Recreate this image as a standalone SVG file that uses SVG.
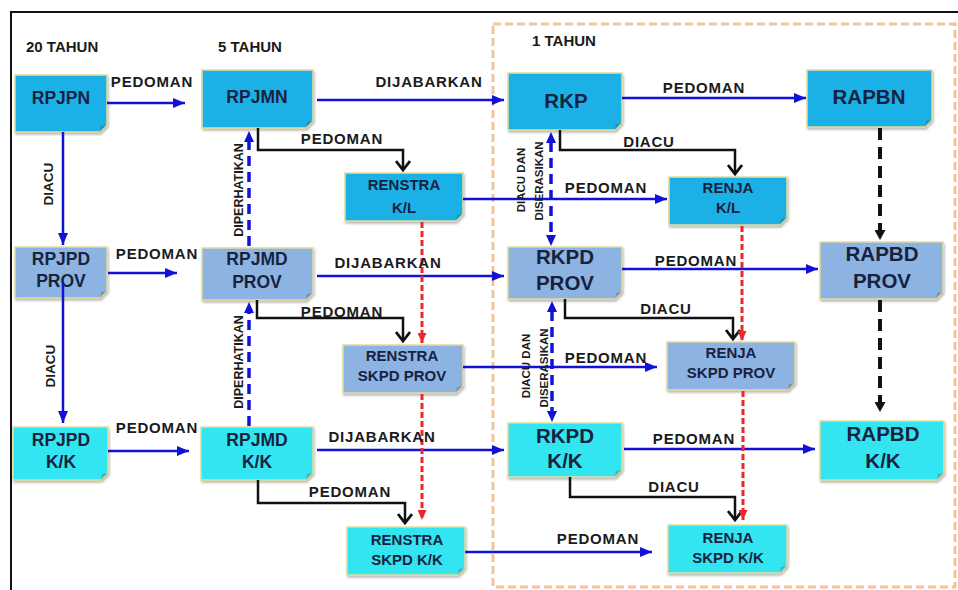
<svg xmlns="http://www.w3.org/2000/svg" width="958" height="590" viewBox="0 0 958 590">
<defs>
<style>
.nd{stroke:#E3DB9C;stroke-width:1.5;filter:url(#sh)}
.sky{fill:#1DB1E6}
.lb{fill:#8DB3E2}
.cy{fill:#33E5F0}
.fold{fill:#000;fill-opacity:0.18}
.nt{font-family:"Liberation Sans",Arial,sans-serif;font-weight:bold;fill:#17223F;text-anchor:middle}
.s16{font-size:17.5px}
.s19{font-size:20.5px}
.s14{font-size:15px}
.lbl{font-family:"Liberation Sans",Arial,sans-serif;font-weight:bold;fill:#1B1B1B;font-size:15px;letter-spacing:0.8px;text-anchor:middle}
.vl{font-family:"Liberation Sans",Arial,sans-serif;font-weight:bold;fill:#1B1B1B;text-anchor:middle}
.hd{font-family:"Liberation Sans",Arial,sans-serif;font-weight:bold;fill:#1B1B1B;font-size:15px}
.bl{fill:none;stroke:#1212D6;stroke-width:2.5;marker-end:url(#ab)}
.bd{fill:none;stroke:#1212D6;stroke-width:3.5;stroke-dasharray:10 6}
.bk{fill:none;stroke:#111;stroke-width:2.5;marker-end:url(#ak)}
.rd{fill:none;stroke:#E8282C;stroke-width:3;stroke-dasharray:6 3;marker-end:url(#ar)}
.kd{fill:none;stroke:#111;stroke-width:4;stroke-dasharray:12 7;marker-end:url(#akd)}
</style>
<filter id="sh" x="-10%" y="-10%" width="125%" height="130%">
<feDropShadow dx="1" dy="2" stdDeviation="1.2" flood-color="#777" flood-opacity="0.5"/>
</filter>
<marker id="ab" markerUnits="userSpaceOnUse" markerWidth="12" markerHeight="10" viewBox="0 0 12 10" refX="12" refY="5" orient="auto"><path d="M0,0 L12,5 L0,10 Z" fill="#1212D6"/></marker>
<marker id="ak" markerUnits="userSpaceOnUse" markerWidth="12" markerHeight="16" viewBox="0 0 12 16" refX="10" refY="8" orient="auto"><path d="M1,1 L10,8 L1,15" fill="none" stroke="#111" stroke-width="2.8"/></marker>
<marker id="ar" markerUnits="userSpaceOnUse" markerWidth="10" markerHeight="9" viewBox="0 0 10 9" refX="10" refY="4.5" orient="auto"><path d="M0,0 L10,4.5 L0,9 Z" fill="#E8282C"/></marker>
<marker id="akd" markerUnits="userSpaceOnUse" markerWidth="10" markerHeight="11" viewBox="0 0 10 11" refX="10" refY="5.5" orient="auto"><path d="M0,0 L10,5.5 L0,11 Z" fill="#111"/></marker>
</defs>
<rect width="958" height="590" fill="#fff"/>
<path d="M11 590V12H958" fill="none" stroke="#111" stroke-width="2"/>
<rect x="493" y="24" width="462" height="563" fill="none" stroke="#EFC59C" stroke-width="3" stroke-dasharray="8 4"/>
<g id="headers">
<text class="hd" x="26" y="52">20 TAHUN</text>
<text class="hd" x="218" y="52">5 TAHUN</text>
<text class="hd" x="532" y="46">1 TAHUN</text>
</g>
<g id="rpjpn"><path class="nd sky" d="M15 75H107V125L100 132H15Z"/><path class="fold" d="M100 132L101 126L107 125Z"/><text class="nt s16" x="61" y="104">RPJPN</text></g>
<g id="rpjmn"><path class="nd sky" d="M202 70H313V121L306 128H202Z"/><path class="fold" d="M306 128L307 122L313 121Z"/><text class="nt s16" x="257" y="103">RPJMN</text></g>
<g id="rkp"><path class="nd sky" d="M508 73H622V123L615 130H508Z"/><path class="fold" d="M615 130L616 124L622 123Z"/><text class="nt s19" x="566" y="108">RKP</text></g>
<g id="rapbn"><path class="nd sky" d="M807 70H932V120L925 127H807Z"/><path class="fold" d="M925 127L926 121L932 120Z"/><text class="nt s19" x="869" y="104">RAPBN</text></g>
<g id="renstra-kl"><path class="nd sky" d="M345 173H463V214L456 221H345Z"/><path class="fold" d="M456 221L457 215L463 214Z"/><text class="nt s14" x="404" y="190">RENSTRA</text><text class="nt s14" x="404" y="213">K/L</text></g>
<g id="renja-kl"><path class="nd sky" d="M669 177H787V218L780 225H669Z"/><path class="fold" d="M780 225L781 219L787 218Z"/><text class="nt s14" x="728" y="193">RENJA</text><text class="nt s14" x="728" y="213">K/L</text></g>
<g id="rpjpd-prov"><path class="nd lb" d="M15 247H107V291L100 298H15Z"/><path class="fold" d="M100 298L101 292L107 291Z"/><text class="nt s16" x="61" y="265">RPJPD</text><text class="nt s16" x="61" y="287">PROV</text></g>
<g id="rpjmd-prov"><path class="nd lb" d="M202 248H313V293L306 300H202Z"/><path class="fold" d="M306 300L307 294L313 293Z"/><text class="nt s16" x="257" y="265">RPJMD</text><text class="nt s16" x="257" y="288">PROV</text></g>
<g id="rkpd-prov"><path class="nd lb" d="M508 247H622V292L615 299H508Z"/><path class="fold" d="M615 299L616 293L622 292Z"/><text class="nt s19" x="565" y="264">RKPD</text><text class="nt s19" x="565" y="290">PROV</text></g>
<g id="rapbd-prov"><path class="nd lb" d="M820 242H943V292L936 299H820Z"/><path class="fold" d="M936 299L937 293L943 292Z"/><text class="nt s19" x="882" y="261">RAPBD</text><text class="nt s19" x="882" y="288">PROV</text></g>
<g id="renstra-skpd-prov"><path class="nd lb" d="M343 345H463V386L456 393H343Z"/><path class="fold" d="M456 393L457 387L463 386Z"/><text class="nt s14" x="402" y="361">RENSTRA</text><text class="nt s14" x="402" y="381">SKPD PROV</text></g>
<g id="renja-skpd-prov"><path class="nd lb" d="M667 342H795V383L788 390H667Z"/><path class="fold" d="M788 390L789 384L795 383Z"/><text class="nt s14" x="731" y="358">RENJA</text><text class="nt s14" x="731" y="378">SKPD PROV</text></g>
<g id="rpjpd-kk"><path class="nd cy" d="M13 427H108V473L101 480H13Z"/><path class="fold" d="M101 480L102 474L108 473Z"/><text class="nt s16" x="61" y="446">RPJPD</text><text class="nt s16" x="61" y="468">K/K</text></g>
<g id="rpjmd-kk"><path class="nd cy" d="M201 427H313V473L306 480H201Z"/><path class="fold" d="M306 480L307 474L313 473Z"/><text class="nt s16" x="257" y="446">RPJMD</text><text class="nt s16" x="257" y="468">K/K</text></g>
<g id="rkpd-kk"><path class="nd cy" d="M508 423H622V470L615 477H508Z"/><path class="fold" d="M615 477L616 471L622 470Z"/><text class="nt s19" x="565" y="443">RKPD</text><text class="nt s19" x="565" y="468">K/K</text></g>
<g id="rapbd-kk"><path class="nd cy" d="M820 421H944V473L937 480H820Z"/><path class="fold" d="M937 480L938 474L944 473Z"/><text class="nt s19" x="883" y="441">RAPBD</text><text class="nt s19" x="883" y="468">K/K</text></g>
<g id="renstra-skpd-kk"><path class="nd cy" d="M347 527H465V568L458 575H347Z"/><path class="fold" d="M458 575L459 569L465 568Z"/><text class="nt s14" x="407" y="545">RENSTRA</text><text class="nt s14" x="407" y="565">SKPD K/K</text></g>
<g id="renja-skpd-kk"><path class="nd cy" d="M668 525H787V566L780 573H668Z"/><path class="fold" d="M780 573L781 567L787 566Z"/><text class="nt s14" x="728" y="543">RENJA</text><text class="nt s14" x="728" y="563">SKPD K/K</text></g>
<g id="connectors">
<path class="bl" d="M107 103H185"/>
<path class="bl" d="M317 100H504"/>
<path class="bl" d="M622 98H806"/>
<path class="bl" d="M463 199H667"/>
<path class="bl" d="M108 273H177"/>
<path class="bl" d="M317 276H504"/>
<path class="bl" d="M622 269H818"/>
<path class="bl" d="M463 367H657"/>
<path class="bl" d="M108 451H189"/>
<path class="bl" d="M317 450H504"/>
<path class="bl" d="M624 449H815"/>
<path class="bl" d="M465 552H652"/>
<path class="bl" d="M63 132V245"/>
<path class="bl" d="M63 284V423"/>
<path class="bd" d="M249 246V140"/><path d="M249 131L244 142H254Z" fill="#1212D6"/>
<path class="bd" d="M249 426V311"/><path d="M249 302L244 313H254Z" fill="#1212D6"/>
<path class="bd" d="M551 142V236"/><path d="M551 132L546 143H556Z M551 246L546 235H556Z" fill="#1212D6"/>
<path class="bd" d="M552 311V412"/><path d="M552 301L547 312H557Z M552 422L547 411H557Z" fill="#1212D6"/>
<path class="bk" d="M258 128V150H403V170"/>
<path class="bk" d="M560 130V150H735V174"/>
<path class="bk" d="M257 300V318H403V341"/>
<path class="bk" d="M565 299V318H733V339"/>
<path class="bk" d="M258 480V503H405V523"/>
<path class="bk" d="M570 477V497H735V520"/>
<path class="rd" d="M422 222V343"/>
<path class="rd" d="M422 394V520"/>
<path class="rd" d="M742 226V341"/>
<path class="rd" d="M743 391V520"/>
<path class="kd" d="M880 128V240"/>
<path class="kd" d="M880 300V412"/>
<text class="lbl" x="152" y="87">PEDOMAN</text>
<text class="lbl" x="429" y="87">DIJABARKAN</text>
<text class="lbl" x="704" y="93">PEDOMAN</text>
<text class="lbl" x="342" y="144">PEDOMAN</text>
<text class="lbl" x="649" y="147">DIACU</text>
<text class="lbl" x="606" y="193">PEDOMAN</text>
<text class="lbl" x="157" y="259">PEDOMAN</text>
<text class="lbl" x="388" y="268">DIJABARKAN</text>
<text class="lbl" x="696" y="266">PEDOMAN</text>
<text class="lbl" x="342" y="317">PEDOMAN</text>
<text class="lbl" x="666" y="314">DIACU</text>
<text class="lbl" x="606" y="363">PEDOMAN</text>
<text class="lbl" x="157" y="433">PEDOMAN</text>
<text class="lbl" x="382" y="442">DIJABARKAN</text>
<text class="lbl" x="694" y="444">PEDOMAN</text>
<text class="lbl" x="350" y="497">PEDOMAN</text>
<text class="lbl" x="674" y="492">DIACU</text>
<text class="lbl" x="598" y="544">PEDOMAN</text>
<text class="vl" font-size="13.5" transform="translate(53,184) rotate(-90)">DIACU</text>
<text class="vl" font-size="13.5" transform="translate(55,366) rotate(-90)">DIACU</text>
<text class="vl" font-size="12.5" transform="translate(243,190) rotate(-90)">DIPERHATIKAN</text>
<text class="vl" font-size="12.5" transform="translate(243,362) rotate(-90)">DIPERHATIKAN</text>
<text class="vl" font-size="11.5" transform="translate(525,180) rotate(-90)">DIACU DAN</text>
<text class="vl" font-size="11.5" transform="translate(543,181) rotate(-90)">DISERASIKAN</text>
<text class="vl" font-size="11.5" transform="translate(530,366) rotate(-90)">DIACU DAN</text>
<text class="vl" font-size="11.5" transform="translate(548,368) rotate(-90)">DISERASIKAN</text>
</g>
</svg>
